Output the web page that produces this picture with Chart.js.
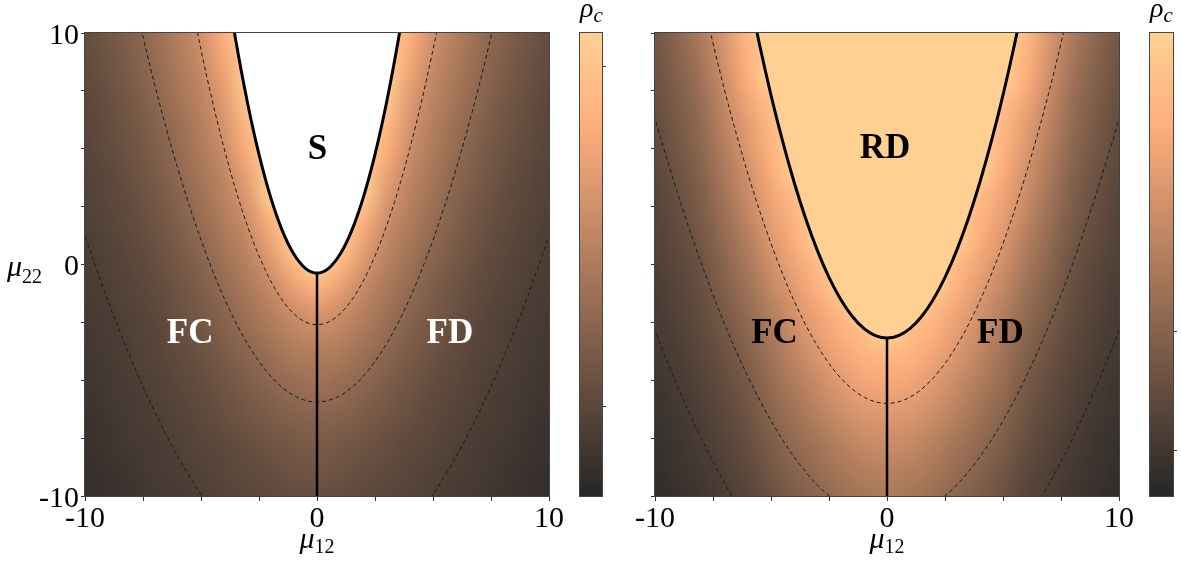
<!DOCTYPE html>
<html><head><meta charset="utf-8">
<script src="https://cdn.jsdelivr.net/npm/chart.js@4.4.1/dist/chart.umd.min.js"></script>
<style>body{margin:0;background:#fff} canvas{position:absolute;top:0}</style>
</head><body>
<div style="position:relative;width:1181px;height:562px;overflow:hidden">
<canvas id="pL" width="564" height="562" style="left:0"></canvas>
<canvas id="pR" width="564" height="562" style="left:570px"></canvas>
<canvas id="cL" width="40" height="562" style="left:575px"></canvas>
<canvas id="cR" width="41" height="562" style="left:1145px"></canvas>
</div>
<script>
// ---------------- data ----------------
const X_TICKS = [-10, -7.5, -5, -2.5, 0, 2.5, 5, 7.5, 10];
const Y_TICKS = [-10, -7.5, -5, -2.5, 0, 2.5, 5, 7.5, 10];
const MAJOR_TICK_LABELS = [-10, 0, 10];

// heat-map grid (field is mirror symmetric in mu12)
const MU12_GRID = [0, 1, 2, 3, 4, 5, 6, 7, 8, 9, 10];
const MU22_GRID = [10, 9, 8, 7, 6, 5, 4, 3, 2, 1, 0, -1, -2, -3, -4, -5, -6, -7, -8, -9, -10];

// normalised rho_c, left panel (null = region S, no value)
const RHO_LEFT = [
  [null,null,null,null,0.815,0.625,0.52,0.425,0.345,0.285,0.23],
  [null,null,null,null,0.77,0.60,0.50,0.405,0.33,0.265,0.22],
  [null,null,null,null,0.725,0.57,0.475,0.39,0.315,0.26,0.21],
  [null,null,null,0.965,0.68,0.55,0.455,0.37,0.295,0.24,0.195],
  [null,null,null,0.87,0.65,0.52,0.425,0.345,0.28,0.23,0.19],
  [null,null,null,0.805,0.605,0.50,0.405,0.325,0.265,0.22,0.18],
  [null,null,null,0.735,0.57,0.47,0.385,0.31,0.25,0.20,0.17],
  [null,null,null,0.68,0.54,0.445,0.355,0.29,0.23,0.195,0.16],
  [null,null,0.84,0.62,0.51,0.415,0.335,0.265,0.22,0.185,0.15],
  [null,null,0.735,0.57,0.475,0.385,0.31,0.25,0.205,0.17,0.14],
  [null,0.86,0.66,0.53,0.44,0.35,0.29,0.23,0.19,0.16,0.135],
  [0.825,0.715,0.585,0.485,0.405,0.325,0.265,0.215,0.18,0.15,0.125],
  [0.67,0.615,0.53,0.45,0.365,0.30,0.25,0.20,0.165,0.14,0.115],
  [0.585,0.545,0.48,0.405,0.335,0.275,0.23,0.185,0.155,0.13,0.105],
  [0.50,0.49,0.425,0.365,0.305,0.25,0.21,0.175,0.15,0.12,0.10],
  [0.455,0.42,0.385,0.325,0.275,0.23,0.195,0.16,0.135,0.11,0.09],
  [0.395,0.38,0.335,0.295,0.25,0.21,0.18,0.15,0.125,0.105,0.08],
  [0.345,0.325,0.30,0.265,0.23,0.195,0.165,0.14,0.12,0.09,0.07],
  [0.305,0.285,0.265,0.23,0.20,0.18,0.15,0.125,0.105,0.085,0.065],
  [0.275,0.26,0.23,0.21,0.19,0.16,0.14,0.12,0.095,0.07,0.055],
  [0.23,0.225,0.21,0.19,0.17,0.15,0.125,0.105,0.085,0.07,0.05]
];
// normalised rho_c, right panel (1 = region RD)
const RHO_RIGHT = [
  [1,1,1,1,1,1,0.86,0.66,0.50,0.38,0.29],
  [1,1,1,1,1,1,0.83,0.64,0.47,0.36,0.27],
  [1,1,1,1,1,1,0.80,0.61,0.45,0.34,0.26],
  [1,1,1,1,1,0.91,0.75,0.58,0.42,0.32,0.24],
  [1,1,1,1,1,0.86,0.70,0.55,0.40,0.30,0.22],
  [1,1,1,1,1,0.83,0.67,0.52,0.38,0.285,0.21],
  [1,1,1,1,1,0.79,0.63,0.49,0.35,0.265,0.20],
  [1,1,1,1,0.89,0.745,0.60,0.46,0.33,0.245,0.18],
  [1,1,1,1,0.84,0.71,0.56,0.43,0.31,0.23,0.17],
  [1,1,1,1,0.79,0.665,0.52,0.40,0.285,0.215,0.165],
  [1,1,1,0.88,0.74,0.62,0.485,0.37,0.26,0.195,0.15],
  [1,1,1,0.82,0.69,0.575,0.44,0.34,0.24,0.18,0.135],
  [1,1,0.875,0.75,0.64,0.525,0.405,0.31,0.22,0.17,0.125],
  [1,0.895,0.80,0.70,0.60,0.48,0.37,0.28,0.205,0.155,0.115],
  [0.85,0.82,0.745,0.655,0.555,0.45,0.34,0.255,0.19,0.14,0.105],
  [0.775,0.755,0.69,0.60,0.51,0.415,0.305,0.23,0.17,0.125,0.09],
  [0.71,0.695,0.635,0.555,0.465,0.38,0.275,0.21,0.155,0.115,0.08],
  [0.65,0.63,0.575,0.50,0.425,0.345,0.25,0.19,0.14,0.10,0.07],
  [0.59,0.57,0.52,0.45,0.385,0.31,0.23,0.17,0.125,0.09,0.06],
  [0.535,0.515,0.47,0.41,0.35,0.28,0.20,0.155,0.11,0.08,0.05],
  [0.49,0.47,0.43,0.37,0.32,0.25,0.18,0.14,0.095,0.065,0.04]
];

// phase boundaries (mu12 >= 0 half, mirrored)
const LEFT_BOUNDARY_MU12 = [0, 0.5, 1, 1.5, 2, 2.5, 3, 3.5, 4];
const LEFT_BOUNDARY_MU22 = [-0.37, -0.165, 0.45, 1.475, 2.91, 4.755, 7.01, 9.675, 12.75];
const LEFT_VERTICAL_MU22 = [-0.37, -10];
const RIGHT_BOUNDARY_MU12 = [0, 0.5, 1, 1.5, 2, 2.5, 3, 3.5, 4, 4.5, 5, 5.5, 6];
const RIGHT_BOUNDARY_MU22 = [-3.18, -3.075, -2.76, -2.235, -1.5, -0.555, 0.6, 1.965, 3.54, 5.325, 7.32, 9.525, 11.94];
const RIGHT_VERTICAL_MU22 = [-3.18, -10];

// dashed rho_c contours (mu12 >= 0 half, mirrored)
const LEFT_C1_MU12 = [0, 1, 2, 3, 4, 5, 6];
const LEFT_C1_MU22 = [-2.6, -2.125, -0.7, 1.675, 5.0, 9.275, 14.5];
const LEFT_C2_MU12 = [0, 1, 2, 3, 4, 5, 6, 7, 8];
const LEFT_C2_MU22 = [-5.94, -5.66, -4.82, -3.42, -1.46, 1.06, 4.14, 7.78, 11.98];
const LEFT_C3_MU12 = [4, 5, 6, 7, 8, 9, 10, 11];
const LEFT_C3_MU22 = [-11.28, -9.935, -8.296, -6.359, -4.124, -1.591, 1.24, 4.37];
const RIGHT_C1_MU12 = [0, 1, 2, 3, 4, 5, 6, 7, 8];
const RIGHT_C1_MU22 = [-6, -5.724, -4.896, -3.516, -1.584, 0.9, 3.936, 7.524, 11.66];
const RIGHT_C2_MU12 = [2, 3, 4, 5, 6, 7, 8, 9, 10, 11];
const RIGHT_C2_MU22 = [-10.4, -9.534, -8.316, -6.75, -4.836, -2.574, 0.036, 2.994, 6.3, 9.95];
const RIGHT_C3_MU12 = [6, 7, 8, 9, 10, 11];
const RIGHT_C3_MU22 = [-11.126, -9.449, -7.514, -5.321, -2.87, -0.16];

// colour-bar tick values (fraction of the bar)
const CBAR_TICKS_LEFT = [0.194, 0.927];
const CBAR_TICKS_RIGHT = [0.099, 0.356];

// ---------------- rendering ----------------
const SERIF = "'Liberation Serif', 'DejaVu Serif', serif";
const ALPHA = 0.85;
function cmap(v) { // copper colormap, semi-transparent over white
  const b = 255 * (1 - ALPHA), a = 255 * ALPHA;
  return [b + a * Math.min(1, 1.25 * v), b + a * 0.7812 * v, b + a * 0.4975 * v];
}
const rgb = c => `rgb(${c.map(Math.round).join(',')})`;

function mirrored(xs, ys) {
  const pts = [];
  for (let i = xs.length - 1; i >= 0; i--) if (xs[i] !== 0) pts.push({x: -xs[i], y: ys[i]});
  for (let i = 0; i < xs.length; i++) pts.push({x: xs[i], y: ys[i]});
  return pts;
}
function branches(xs, ys) {
  const neg = [], pos = [];
  for (let i = xs.length - 1; i >= 0; i--) neg.push({x: -xs[i], y: ys[i]});
  for (let i = 0; i < xs.length; i++) pos.push({x: xs[i], y: ys[i]});
  return [neg, pos];
}
const solid = (data, w) => ({data, borderColor: '#000', borderWidth: w, pointRadius: 0, fill: false, cubicInterpolationMode: 'monotone'});
const dashed = data => ({data, borderColor: '#1a1a1a', borderWidth: 1, borderDash: [4, 3], pointRadius: 0, fill: false, cubicInterpolationMode: 'monotone'});
function contourSets(xs, ys) {
  return xs[0] === 0 ? [dashed(mirrored(xs, ys))] : branches(xs, ys).map(dashed);
}

const heatPlugin = {
  id: 'heat',
  beforeDatasetsDraw(chart, args, o) {
    const grid = o.grid, nx = MU12_GRID.length, ny = MU22_GRID.length, W = 2 * nx - 1;
    const off = document.createElement('canvas'); off.width = W; off.height = ny;
    const oc = off.getContext('2d'); const im = oc.createImageData(W, ny);
    for (let r = 0; r < ny; r++) for (let c = 0; c < W; c++) {
      let v = grid[r][Math.abs(c - (nx - 1))]; if (v === null) v = o.nullValue;
      const col = cmap(v), i = 4 * (r * W + c);
      im.data[i] = col[0]; im.data[i + 1] = col[1]; im.data[i + 2] = col[2]; im.data[i + 3] = 255;
    }
    oc.putImageData(im, 0, 0);
    const xs = chart.scales.x, ys = chart.scales.y, a = chart.chartArea;
    const dx = MU12_GRID[1] - MU12_GRID[0], dy = MU22_GRID[0] - MU22_GRID[1];
    const L = xs.getPixelForValue(-MU12_GRID[nx - 1] - dx / 2), R = xs.getPixelForValue(MU12_GRID[nx - 1] + dx / 2);
    const T = ys.getPixelForValue(MU22_GRID[0] + dy / 2), B = ys.getPixelForValue(MU22_GRID[ny - 1] - dy / 2);
    const ctx = chart.ctx; ctx.save();
    ctx.beginPath(); ctx.rect(a.left, a.top, a.right - a.left, a.bottom - a.top); ctx.clip();
    ctx.imageSmoothingEnabled = true; ctx.imageSmoothingQuality = 'high';
    ctx.drawImage(off, L, T, R - L, B - T);
    ctx.restore();
  }
};
const framePlugin = {
  id: 'frame',
  afterDraw(chart) {
    const a = chart.chartArea, ctx = chart.ctx; ctx.save();
    ctx.strokeStyle = '#444'; ctx.lineWidth = 1;
    ctx.strokeRect(Math.round(a.left) - 0.5, Math.round(a.top) - 0.5, Math.round(a.right - a.left) + 1, Math.round(a.bottom - a.top) + 1);
    ctx.restore();
  }
};
function subText(ctx, main, sub, x, y, mainFont, subFont, drop, center) {
  ctx.font = mainFont; const w1 = ctx.measureText(main).width;
  ctx.font = subFont; const w2 = ctx.measureText(sub).width;
  const x0 = center ? x - (w1 + w2) / 2 : x;
  ctx.textAlign = 'left'; ctx.textBaseline = 'alphabetic'; ctx.fillStyle = '#000';
  ctx.font = mainFont; ctx.fillText(main, x0, y);
  ctx.font = subFont; ctx.fillText(sub, x0 + w1, y + drop);
}
const textPlugin = {
  id: 'texts',
  afterDatasetsDraw(chart, args, o) {
    const ctx = chart.ctx, xs = chart.scales.x, ys = chart.scales.y, a = chart.chartArea;
    ctx.save();
    ctx.textAlign = 'center'; ctx.textBaseline = 'middle'; ctx.font = `bold 35px ${SERIF}`;
    for (const l of o.regions) { ctx.fillStyle = l.color; ctx.fillText(l.text, xs.getPixelForValue(l.at[0]), ys.getPixelForValue(l.at[1])); }
    subText(ctx, 'μ', '12', (a.left + a.right) / 2, a.bottom + 52, `italic 30px ${SERIF}`, `20px ${SERIF}`, 5, true);
    if (o.yTitle) subText(ctx, 'μ', '22', a.left - 78, ys.getPixelForValue(0) + 11, `italic 30px ${SERIF}`, `20px ${SERIF}`, 7, false);
    ctx.restore();
  }
};
const cbTitlePlugin = {
  id: 'cbtitle',
  afterDraw(chart) {
    const a = chart.chartArea, ctx = chart.ctx; ctx.save();
    subText(ctx, 'ρ', 'c', a.left, a.top - 16, `italic 28px ${SERIF}`, `italic 21px ${SERIF}`, 5, false);
    ctx.restore();
  }
};

function panel(id, datasets, grid, nullValue, showY, regions) {
  const tickFont = {family: SERIF, size: 30};
  const lbl = v => MAJOR_TICK_LABELS.includes(v) ? String(v) : '';
  new Chart(document.getElementById(id), {
    type: 'line',
    data: {datasets},
    options: {
      responsive: false, animation: false, devicePixelRatio: 1,
      layout: {padding: {top: 33, right: 0, left: 0, bottom: 0}},
      scales: {
        x: {type: 'linear', min: -10, max: 10,
            afterBuildTicks: s => { s.ticks = X_TICKS.map(v => ({value: v})); },
            afterFit: s => { s.height = 66; },
            ticks: {autoSkip: false, maxRotation: 0, font: tickFont, color: '#000', padding: 0, callback: lbl},
            grid: {drawOnChartArea: false, tickLength: 5, color: '#333'}, border: {display: false}},
        y: {type: 'linear', min: -10, max: 10,
            afterBuildTicks: s => { s.ticks = Y_TICKS.map(v => ({value: v})); },
            afterFit: s => { s.width = 85; },
            ticks: {autoSkip: false, font: tickFont, color: '#000', padding: 2, labelOffset: 3, callback: v => showY ? lbl(v) : ''},
            grid: {drawOnChartArea: false, tickLength: 4, color: '#333'}, border: {display: false}}
      },
      plugins: {legend: {display: false}, tooltip: {enabled: false},
        heat: {grid, nullValue}, texts: {regions, yTitle: showY}}
    },
    plugins: [heatPlugin, textPlugin, framePlugin]
  });
}

function colorbar(id, ticks, rightPad) {
  new Chart(document.getElementById(id), {
    type: 'bar',
    data: {labels: [''], datasets: [{data: [[0, 1]], borderWidth: 0, barPercentage: 1, categoryPercentage: 1,
      backgroundColor: c => {
        const a = c.chart.chartArea; if (!a) return '#888';
        const g = c.chart.ctx.createLinearGradient(0, a.bottom, 0, a.top);
        g.addColorStop(0, rgb(cmap(0))); g.addColorStop(0.8, rgb(cmap(0.8))); g.addColorStop(1, rgb(cmap(1)));
        return g;
      }}]},
    options: {
      responsive: false, animation: false, devicePixelRatio: 1,
      layout: {padding: {left: 5, top: 33, bottom: 66, right: 0}},
      scales: {
        x: {display: false},
        y: {min: 0, max: 1, position: 'right',
            afterBuildTicks: s => { s.ticks = ticks.map(v => ({value: v})); },
            afterFit: s => { s.width = rightPad; },
            ticks: {callback: () => '', padding: 0},
            grid: {drawOnChartArea: false, tickLength: 4, color: '#333'}, border: {display: false}}
      },
      plugins: {legend: {display: false}, tooltip: {enabled: false}}
    },
    plugins: [framePlugin, cbTitlePlugin]
  });
}

// left panel
const leftSets = [
  Object.assign(solid(mirrored(LEFT_BOUNDARY_MU12, LEFT_BOUNDARY_MU22), 3), {fill: 'end', backgroundColor: '#ffffff'}),
  solid(LEFT_VERTICAL_MU22.map(y => ({x: 0, y})), 2.5),
  ...contourSets(LEFT_C1_MU12, LEFT_C1_MU22),
  ...contourSets(LEFT_C2_MU12, LEFT_C2_MU22),
  ...contourSets(LEFT_C3_MU12, LEFT_C3_MU22)
];
panel('pL', leftSets, RHO_LEFT, 1, true, [
  {text: 'S', at: [0.02, 4.95], color: '#000'},
  {text: 'FC', at: [-5.47, -3.02], color: '#fff'},
  {text: 'FD', at: [5.73, -3.02], color: '#fff'}
]);
// right panel
const rightSets = [
  Object.assign(solid(mirrored(RIGHT_BOUNDARY_MU12, RIGHT_BOUNDARY_MU22), 3), {fill: 'end', backgroundColor: rgb(cmap(1))}),
  solid(RIGHT_VERTICAL_MU22.map(y => ({x: 0, y})), 2.5),
  ...contourSets(RIGHT_C1_MU12, RIGHT_C1_MU22),
  ...contourSets(RIGHT_C2_MU12, RIGHT_C2_MU22),
  ...contourSets(RIGHT_C3_MU12, RIGHT_C3_MU22)
];
panel('pR', rightSets, RHO_RIGHT, 1, false, [
  {text: 'RD', at: [-0.09, 4.99], color: '#000'},
  {text: 'FC', at: [-4.85, -3.02], color: '#000'},
  {text: 'FD', at: [4.89, -3.02], color: '#000'}
]);
colorbar('cL', CBAR_TICKS_LEFT, 13);
colorbar('cR', CBAR_TICKS_RIGHT, 13);
</script></body></html>
